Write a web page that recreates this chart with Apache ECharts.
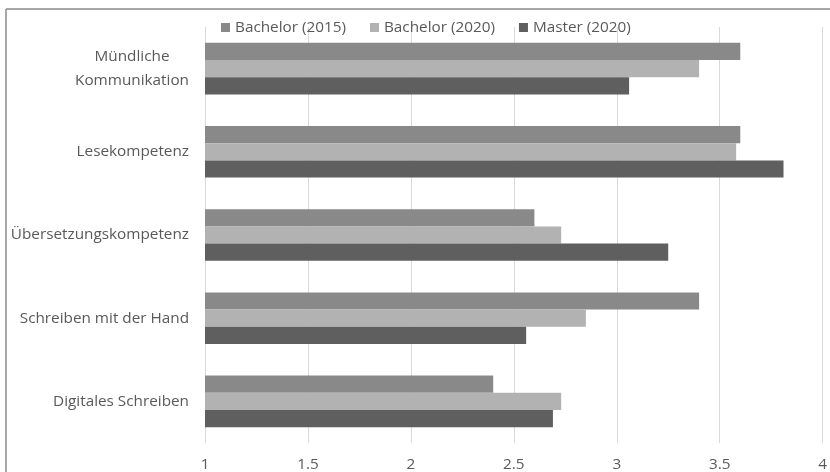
<!DOCTYPE html>
<html>
<head>
<meta charset="utf-8">
<script src="https://cdn.jsdelivr.net/npm/echarts@6/dist/echarts.min.js"></script>
<style>
  html, body { margin: 0; padding: 0; background: #ffffff; }
  #chart { width: 830px; height: 472px; }
</style>
</head>
<body>
<div id="chart"></div>
<script>
// Kompetenzen (Kategorien, von oben nach unten)
const categories = [
  'Mündliche\nKommunikation',
  'Lesekompetenz',
  'Übersetzungskompetenz',
  'Schreiben mit der Hand',
  'Digitales Schreiben'
];

// Mittelwerte je Gruppe
const bachelor2015 = [3.60, 3.60, 2.60, 3.40, 2.40];
const bachelor2020 = [3.40, 3.58, 2.73, 2.85, 2.73];
const master2020   = [3.06, 3.81, 3.25, 2.56, 2.69];

const seriesNames = ['Bachelor (2015)', 'Bachelor (2020)', 'Master (2020)'];
const seriesColors = ['#898989', '#b2b2b2', '#5f5f5f'];

// Skala der x-Achse
const xMin = 1;
const xMax = 4;
const xStep = 0.5;

const FONT = '"Open Sans", sans-serif';
const TEXT_COLOR = '#595959';
const FONT_SIZE = 15.3;

const chart = echarts.init(document.getElementById('chart'), null, { renderer: 'canvas' });

const values = [bachelor2015, bachelor2020, master2020];

chart.setOption({
  animation: false,
  backgroundColor: '#ffffff',
  textStyle: { fontFamily: FONT },
  graphic: [
    // Rahmen des Diagrammbereichs (oben und links)
    { type: 'line', shape: { x1: 6, y1: 9, x2: 830, y2: 9 }, style: { stroke: '#8a8a8a', lineWidth: 1.5 }, silent: true },
    { type: 'line', shape: { x1: 6, y1: 9, x2: 6, y2: 472 }, style: { stroke: '#8a8a8a', lineWidth: 1.5 }, silent: true }
  ],
  legend: {
    left: 216,
    top: 15,
    itemWidth: 9,
    itemHeight: 9,
    itemGap: 24,
    icon: 'rect',
    textStyle: { color: TEXT_COLOR, fontSize: FONT_SIZE, fontFamily: FONT },
    data: seriesNames
  },
  grid: {
    left: 205,
    right: 6,
    top: 27,
    bottom: 27,
    containLabel: false
  },
  xAxis: {
    type: 'value',
    min: xMin,
    max: xMax,
    interval: xStep,
    axisLine: { show: false },
    axisTick: { show: false },
    splitLine: { show: true, lineStyle: { color: '#d9d9d9', width: 1 } },
    axisLabel: {
      color: TEXT_COLOR,
      fontSize: FONT_SIZE,
      fontFamily: FONT,
      margin: 14,
      formatter: v => String(v)
    }
  },
  yAxis: {
    type: 'category',
    inverse: true,
    data: categories,
    axisLine: { show: false },
    axisTick: { show: false },
    splitLine: { show: false },
    axisLabel: {
      color: TEXT_COLOR,
      fontSize: FONT_SIZE,
      fontFamily: FONT,
      margin: 16,
      lineHeight: 24,
      formatter: v => v.split('\n').map(s => '{c|' + s + '}').join('\n'),
      rich: {
        c: { align: 'center', color: TEXT_COLOR, fontSize: FONT_SIZE, fontFamily: FONT, lineHeight: 24 }
      }
    }
  },
  series: seriesNames.map((name, i) => ({
    name: name,
    type: 'bar',
    data: values[i],
    barGap: '0%',
    barCategoryGap: '38%',
    itemStyle: { color: seriesColors[i] },
    emphasis: { disabled: true }
  }))
});
</script>
</body>
</html>
